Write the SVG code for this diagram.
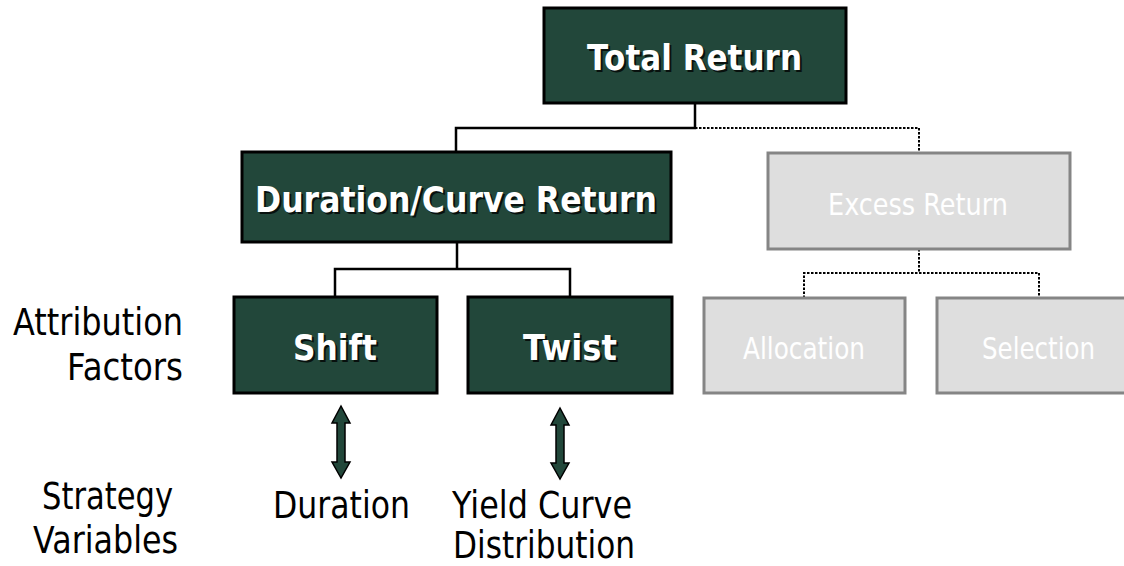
<svg xmlns="http://www.w3.org/2000/svg" width="1124" height="566" viewBox="0 0 1124 566">
  <style>
    .dark { fill: #22473a; stroke: #000; stroke-width: 3; }
    .grey { fill: #dedede; stroke: #858585; stroke-width: 3; }
    .bold { font-family: "DejaVu Sans", Verdana, sans-serif; font-weight: bold; font-size: 35px; fill: #fff; }
    .shadow { font-family: "DejaVu Sans", Verdana, sans-serif; font-weight: bold; font-size: 35px; fill: #000; opacity: 0.75; }
    .light { font-family: "DejaVu Sans", Verdana, sans-serif; font-size: 30px; fill: #fff; }
    .label { font-family: "DejaVu Sans", Verdana, sans-serif; font-size: 37px; fill: #000; }
    .solid { fill: none; stroke: #000; stroke-width: 2.5; }
    .dash { fill: none; stroke: #000; stroke-width: 2; stroke-dasharray: 2.5 1.5; }
    .arrow { fill: #22473a; stroke: #000; stroke-width: 1.5; stroke-linejoin: miter; }
  </style>

  <!-- tree connectors -->
  <g id="connectors">
    <path class="solid" d="M695,103 V128 H456 V152"/>
    <path class="solid" d="M457,242 V269 M335,298 V269 H570 V298"/>
    <path class="dash" d="M695,128 H919 V153"/>
    <path class="dash" d="M919,249 V273 M804,298 V273 H1039 V298"/>
  </g>

  <g id="total-return">
    <rect class="dark" x="544" y="8" width="302" height="95"/>
    <text class="shadow" x="589" y="72" textLength="215" lengthAdjust="spacingAndGlyphs">Total Return</text>
    <text class="bold" x="587" y="70" textLength="215" lengthAdjust="spacingAndGlyphs">Total Return</text>
  </g>

  <g id="duration-curve-return">
    <rect class="dark" x="242" y="152" width="429" height="90"/>
    <text class="shadow" x="257" y="214" textLength="402" lengthAdjust="spacingAndGlyphs">Duration/Curve Return</text>
    <text class="bold" x="255" y="212" textLength="402" lengthAdjust="spacingAndGlyphs">Duration/Curve Return</text>
  </g>

  <g id="excess-return">
    <rect class="grey" x="768" y="153" width="302" height="96"/>
    <text class="light" x="828" y="215" textLength="180" lengthAdjust="spacingAndGlyphs">Excess Return</text>
  </g>

  <g id="shift">
    <rect class="dark" x="234" y="297" width="203" height="96"/>
    <text class="shadow" x="295" y="362" textLength="84" lengthAdjust="spacingAndGlyphs">Shift</text>
    <text class="bold" x="293" y="360" textLength="84" lengthAdjust="spacingAndGlyphs">Shift</text>
  </g>

  <g id="twist">
    <rect class="dark" x="468" y="297" width="204" height="96"/>
    <text class="shadow" x="525" y="362" textLength="94" lengthAdjust="spacingAndGlyphs">Twist</text>
    <text class="bold" x="523" y="360" textLength="94" lengthAdjust="spacingAndGlyphs">Twist</text>
  </g>

  <g id="allocation">
    <rect class="grey" x="704" y="298" width="201" height="95"/>
    <text class="light" x="743" y="359" textLength="122" lengthAdjust="spacingAndGlyphs">Allocation</text>
  </g>

  <g id="selection">
    <rect class="grey" x="937" y="298" width="202" height="95"/>
    <text class="light" x="982" y="359" textLength="113" lengthAdjust="spacingAndGlyphs">Selection</text>
  </g>

  <!-- row labels -->
  <g id="attribution-factors">
    <text class="label" x="13" y="335" textLength="170" lengthAdjust="spacingAndGlyphs">Attribution</text>
    <text class="label" x="67" y="380" textLength="116" lengthAdjust="spacingAndGlyphs">Factors</text>
  </g>
  <g id="strategy-variables">
    <text class="label" x="42" y="509" textLength="131" lengthAdjust="spacingAndGlyphs">Strategy</text>
    <text class="label" x="33" y="553" textLength="145" lengthAdjust="spacingAndGlyphs">Variables</text>
  </g>

  <!-- double arrows and strategy variables -->
  <g id="duration-link">
    <path class="arrow" d="M341,406 L350,423 L345,423 L345,462 L350,462 L341,478 L332,462 L337,462 L337,423 L332,423 Z"/>
    <text class="label" x="273" y="518" textLength="137" lengthAdjust="spacingAndGlyphs">Duration</text>
  </g>
  <g id="yield-curve-link">
    <path class="arrow" d="M560,408 L569,425 L564,425 L564,463 L569,463 L560,479 L551,463 L556,463 L556,425 L551,425 Z"/>
    <text class="label" x="452" y="518" textLength="180" lengthAdjust="spacingAndGlyphs">Yield Curve</text>
    <text class="label" x="453" y="558" font-size="35" textLength="182" lengthAdjust="spacingAndGlyphs">Distribution</text>
  </g>
</svg>
